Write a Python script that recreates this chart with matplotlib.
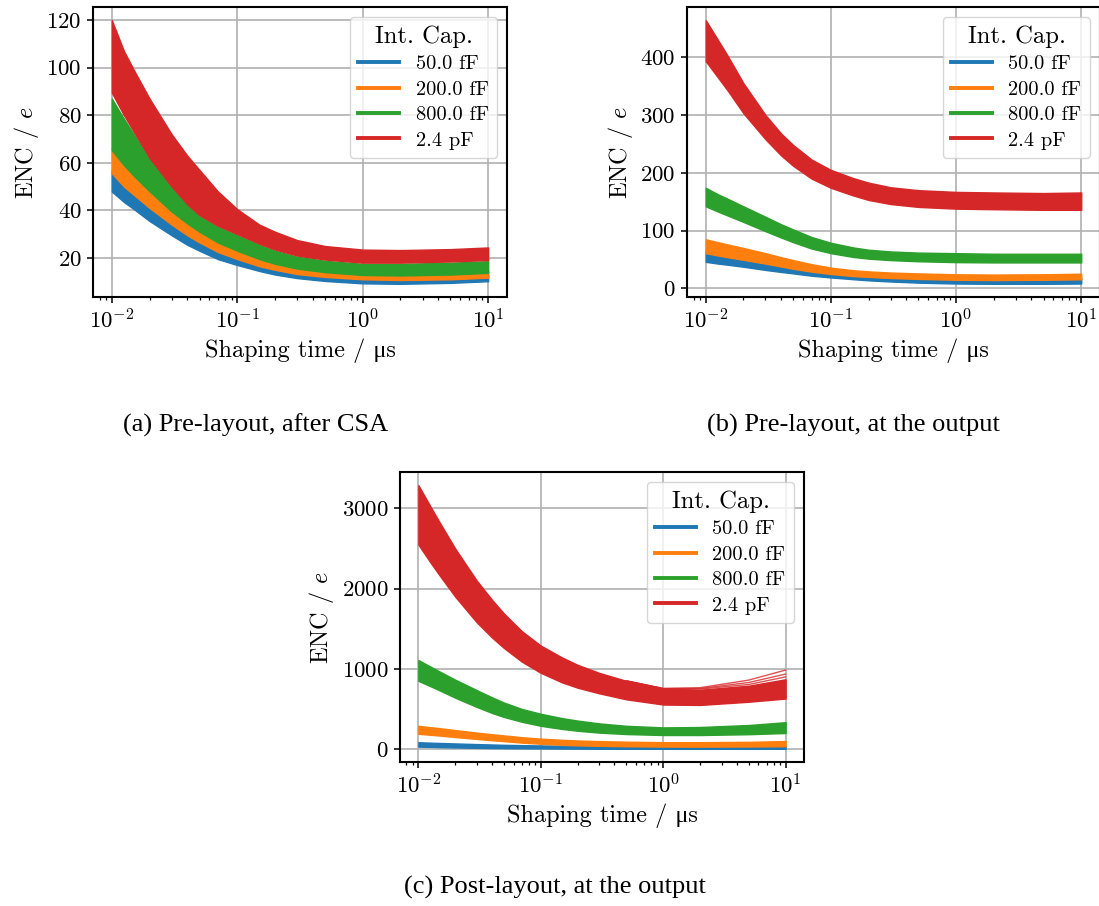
import numpy as np
import matplotlib
matplotlib.use("Agg")
import matplotlib.pyplot as plt

plt.rcParams["font.family"] = ["cmr10", "Liberation Serif", "DejaVu Serif"]
plt.rcParams["mathtext.fontset"] = "cm"
plt.rcParams["axes.formatter.use_mathtext"] = True
plt.rcParams["font.size"] = 16.5
plt.rcParams["axes.linewidth"] = 1.5

tau = [0.01, 0.0125, 0.015, 0.02, 0.03, 0.04, 0.05, 0.07, 0.1, 0.15, 0.2,
       0.3, 0.5, 1, 2, 5, 10]
caps = ["50.0 fF", "200.0 fF", "800.0 fF", "2.4 pF"]
colors = ["tab:blue", "tab:orange", "tab:green", "tab:red"]

# (a) pre-layout, after CSA : lower / upper edge of each Monte Carlo band
a_lo = [
    [47.9, 43.5, 40.5, 35.5, 29.5, 25.5, 23, 19.5, 17, 14.5, 13, 11.5, 10.3, 9.3, 9.1, 9.5, 10.2],
    [55.6, 50, 46.5, 41, 34, 29.5, 26.5, 22.5, 19.5, 16.5, 15, 13.2, 12, 11, 10.7, 11, 11.7],
    [65.3, 59, 54.5, 48, 39.5, 34.5, 31, 26.5, 23, 19.5, 17.5, 15.5, 14, 12.8, 12.6, 13, 13.7],
    [89.5, 80, 73, 62, 50, 42.5, 38, 33.5, 30, 26, 23.5, 21, 19.3, 18, 18, 18.5, 19.1],
]
a_hi = [
    [56.6, 51, 47.5, 42, 35, 30.5, 27.5, 23.5, 20.5, 17.5, 16, 14.2, 13, 12, 11.7, 12, 12.7],
    [66.3, 60, 55.5, 49, 40.5, 35.5, 32, 27.5, 24, 20.5, 18.5, 16.5, 15, 13.8, 13.6, 14, 14.7],
    [87, 78.5, 72, 61.5, 49.5, 42, 37.5, 33, 29.5, 25.5, 23, 20.5, 18.8, 17.5, 17.5, 18, 18.6],
    [120, 107, 99, 87, 72, 63, 57, 48, 40.5, 34, 31, 27.5, 25, 23.5, 23.3, 23.7, 24.4],
]

# (b) pre-layout, at the output
b_lo = [
    [46, 43, 41, 37.5, 32, 28.5, 26, 22, 19, 16, 14, 12, 10, 8.5, 8, 8, 8.5],
    [61, 57, 54, 49.5, 43, 38, 34, 29, 25, 21.5, 20, 18, 16.5, 15, 14.5, 15, 15.8],
    [142, 133, 126, 115, 99, 88, 80, 69, 61, 54.5, 51.5, 49, 47, 45.5, 45, 45, 45],
    [393, 365, 342, 303, 258, 230, 212, 190, 174, 161, 153, 146, 141, 138, 137, 136, 136],
]
b_hi = [
    [64, 60, 57, 52.5, 46, 41, 37, 32, 28, 24.5, 23, 21, 19.5, 18, 17.5, 18, 18.8],
    [85, 80, 76, 70, 61, 54, 49, 42, 36, 31.5, 29.5, 27.5, 26, 24.5, 24, 24.5, 25.5],
    [174, 163, 155, 142, 124, 111, 102, 89, 79, 71, 67, 64, 62, 61, 60, 60, 60],
    [464, 430, 402, 355, 300, 268, 248, 223, 205, 191, 183, 175, 170, 167, 166, 165, 166],
]

# (c) post-layout, at the output
c_lo = [
    [30, 27, 24, 20, 15, 12.5, 11, 9, 8, 6, 5, 4, 3, 3, 3, 3, 3],
    [190, 178, 168, 150, 126, 110, 99, 80, 66, 53, 46, 40, 35, 31, 30, 32, 35],
    [850, 785, 730, 640, 525, 450, 400, 340, 290, 250, 228, 205, 187, 175, 175, 185, 200],
    [2550, 2330, 2160, 1900, 1580, 1390, 1260, 1090, 950, 830, 765, 695, 620, 555, 550, 590, 630],
]
c_hi = [
    [85, 80, 76, 70, 62, 57, 53, 49, 45, 42, 40, 38, 36, 35, 35, 37, 40],
    [290, 273, 260, 237, 205, 185, 170, 148, 130, 115, 107, 99, 92, 86, 86, 90, 100],
    [1110, 1030, 965, 865, 735, 645, 580, 500, 440, 385, 355, 320, 290, 270, 275, 300, 335],
    [3290, 3030, 2820, 2500, 2100, 1860, 1690, 1470, 1290, 1140, 1050, 950, 850, 755, 740, 790, 870],
]
# a few 2.4 pF runs that fan out at long shaping times
c_tail_tau = [0.5, 1, 2, 5, 10]
c_tails = [
    [850, 755, 765, 860, 985],
    [850, 755, 755, 830, 935],
    [850, 752, 748, 805, 900],
]

captions = ["(a) Pre-layout, after CSA", "(b) Pre-layout, at the output",
            "(c) Post-layout, at the output"]

W, H = 1099, 906
fig = plt.figure(figsize=(W / 100, H / 100), dpi=100)


def box(x0, y0, x1, y1):
    return [x0 / W, 1 - y1 / H, (x1 - x0) / W, (y1 - y0) / H]


def draw(ax, lo, hi, yticks):
    for cap, col, l, h in zip(caps, colors, lo, hi):
        ax.fill_between(tau, l, h, color=col, lw=1.0, ec=col)
        ax.plot([], [], color=col, lw=2.8, label=cap)
    ax.set_xscale("log")
    ax.set_xticks([0.01, 0.1, 1, 10])
    ax.set_yticks(yticks)
    ax.grid(True, which="major", color="#b0b0b0", lw=1.2)
    ax.set_axisbelow(True)
    ax.tick_params(which="major", length=4.5, width=1.1)
    ax.tick_params(which="minor", length=2.5, width=0.9)
    ax.set_xlabel("Shaping time / \u03bcs", fontsize=17.5)
    ax.set_ylabel("ENC / $e$", fontsize=17.5)
    leg = ax.legend(title="Int. Cap.", loc="upper right", fontsize=14.7,
                    title_fontsize=17.8, labelspacing=0.35)
    return leg


ax1 = fig.add_axes(box(93, 7, 507, 297))
draw(ax1, a_lo, a_hi, [20, 40, 60, 80, 100, 120])

ax2 = fig.add_axes(box(687, 7, 1100, 297))
draw(ax2, b_lo, b_hi, [0, 100, 200, 300, 400])

ax3 = fig.add_axes(box(400, 472, 804, 762))
for t in c_tails:
    ax3.plot(c_tail_tau, t, color="tab:red", lw=1.0, alpha=0.8)
draw(ax3, c_lo, c_hi, [0, 1000, 2000, 3000])

fig.text(256 / W, 1 - 425 / H, captions[0], ha="center", va="center",
         family="Liberation Serif", fontsize=19)
fig.text(853 / W, 1 - 425 / H, captions[1], ha="center", va="center",
         family="Liberation Serif", fontsize=19)
fig.text(555 / W, 1 - 887 / H, captions[2], ha="center", va="center",
         family="Liberation Serif", fontsize=19)

fig.savefig("out.png", dpi=100)
